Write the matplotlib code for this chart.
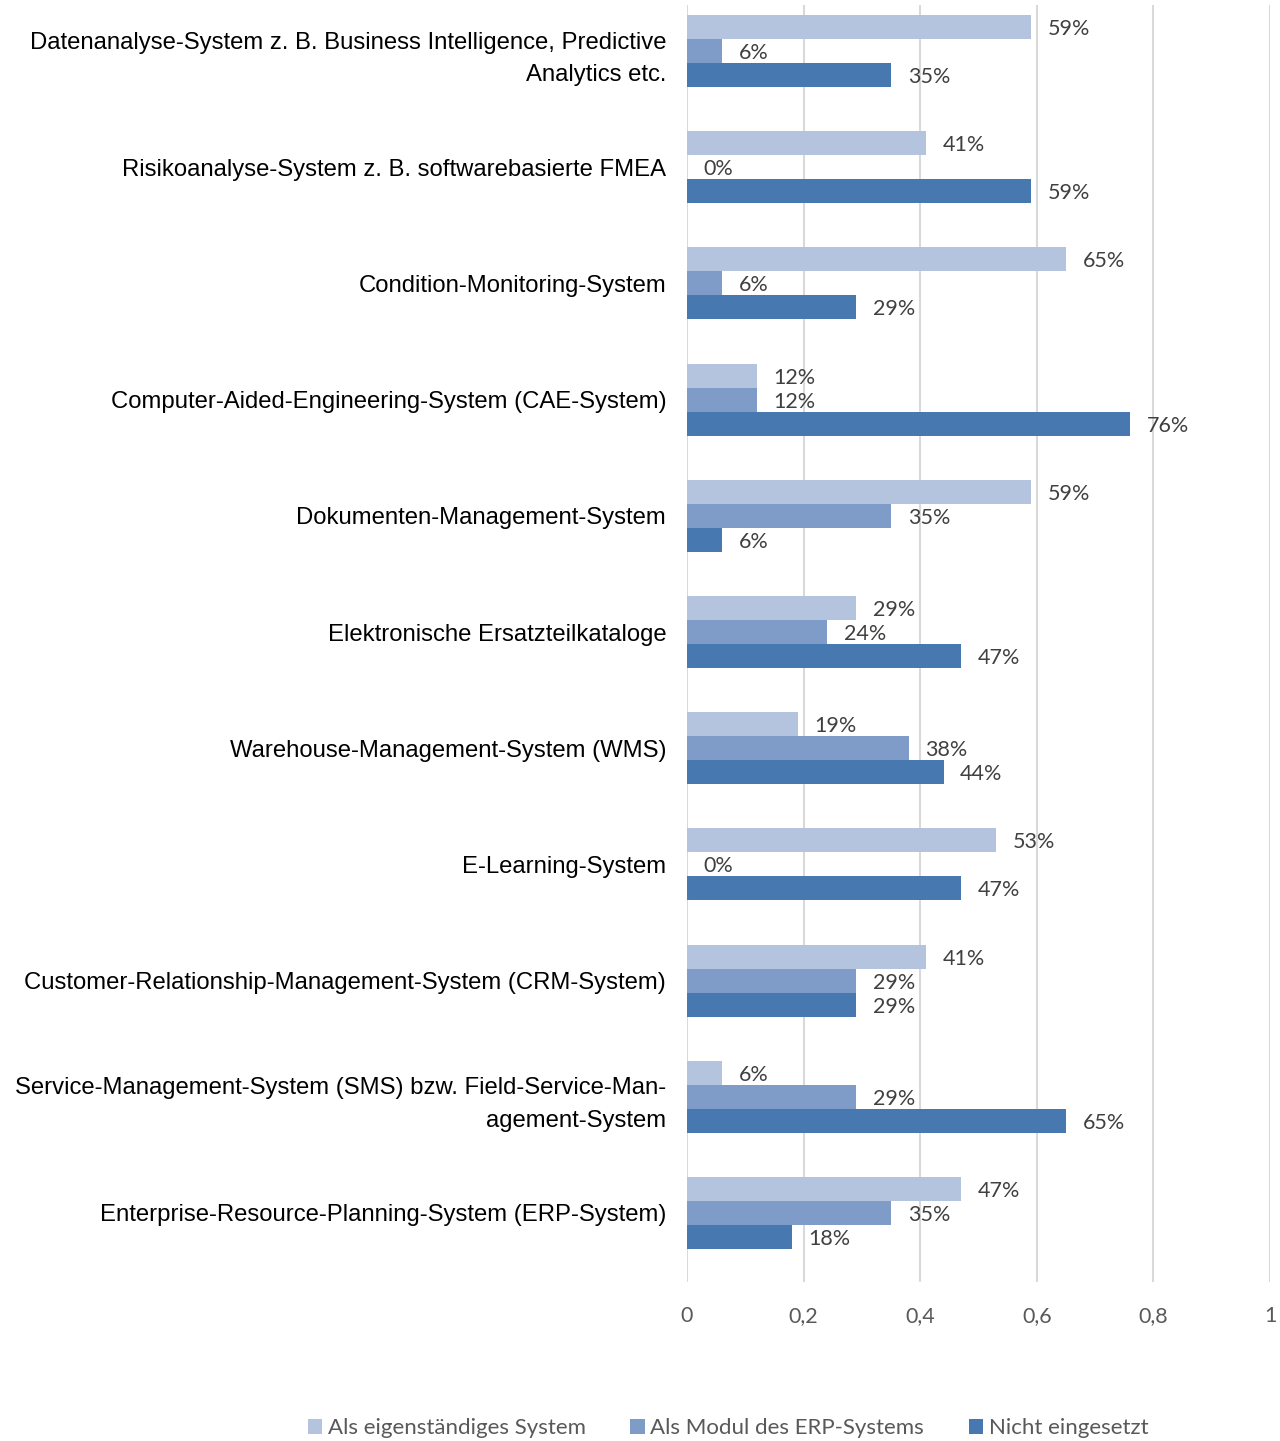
import numpy as np
import matplotlib.pyplot as plt
from matplotlib.ticker import FuncFormatter

# Systems in survey, top to bottom
categories = [
    "Datenanalyse-System z. B. Business Intelligence, Predictive\nAnalytics etc.",
    "Risikoanalyse-System z. B. softwarebasierte FMEA",
    "Condition-Monitoring-System",
    "Computer-Aided-Engineering-System (CAE-System)",
    "Dokumenten-Management-System",
    "Elektronische Ersatzteilkataloge",
    "Warehouse-Management-System (WMS)",
    "E-Learning-System",
    "Customer-Relationship-Management-System (CRM-System)",
    "Service-Management-System (SMS) bzw. Field-Service-Man-\nagement-System",
    "Enterprise-Resource-Planning-System (ERP-System)",
]

# shares in percent
eigenstaendig = [59, 41, 65, 12, 59, 29, 19, 53, 41, 6, 47]
erp_modul = [6, 0, 6, 12, 35, 24, 38, 0, 29, 29, 35]
nicht_eingesetzt = [35, 59, 29, 76, 6, 47, 44, 47, 29, 65, 18]

series_names = ["Als eigenständiges System", "Als Modul des ERP-Systems", "Nicht eingesetzt"]
colors = ["#B4C4DF", "#7F9BC8", "#4878B0"]

fig = plt.figure(figsize=(12.8, 14.41), dpi=100)
ax = fig.add_axes([687 / 1280, 1 - 1282 / 1441, 583 / 1280, 1277 / 1441])

y = np.arange(len(categories))
h = 24 / 116.2
offsets = [-h, 0, h]

handles = []
for vals, off, col, name in zip([eigenstaendig, erp_modul, nicht_eingesetzt], offsets, colors, series_names):
    v = np.array(vals) / 100
    b = ax.barh(y + off, v, height=h, color=col, label=name, zorder=2)
    handles.append(b)
    for yi, pct, vi in zip(y, vals, v):
        ax.annotate(f"{pct}%", xy=(vi, yi + off), xytext=(12, -1.5), textcoords="offset points",
                    va="center", ha="left", fontsize=15.5, family="Lato", color="#404040")

ax.set_xlim(0, 1)
ax.set_ylim(10 + 69 / 116.2, -46 / 116.2)
ax.set_xticks([0, 0.2, 0.4, 0.6, 0.8, 1.0])
ax.xaxis.set_major_formatter(FuncFormatter(lambda v, p: f"{v:g}".replace(".", ",")))
ax.tick_params(axis="x", length=0, pad=17, labelsize=15.5, labelcolor="#595959")
for lbl in ax.get_xticklabels():
    lbl.set_family("Lato")

ax.set_yticks(y)
ax.set_yticklabels(categories, fontsize=17.2, family="Liberation Sans", linespacing=1.6)
ax.tick_params(axis="y", length=0, pad=15)

ax.grid(axis="x", color="#D9D9D9", linewidth=1.5, zorder=0)
ax.set_axisbelow(True)
for s in ax.spines.values():
    s.set_visible(False)

fig.legend(handles=handles, labels=series_names, loc="center",
           bbox_to_anchor=(728 / 1280, 1 - 1428 / 1441), ncol=3, frameon=False,
           prop={"family": "Lato", "size": 16}, handlelength=0.65, handleheight=0.65,
           handletextpad=0.25, columnspacing=2.0, labelcolor="#595959")

fig.savefig("out.png", dpi=100)
